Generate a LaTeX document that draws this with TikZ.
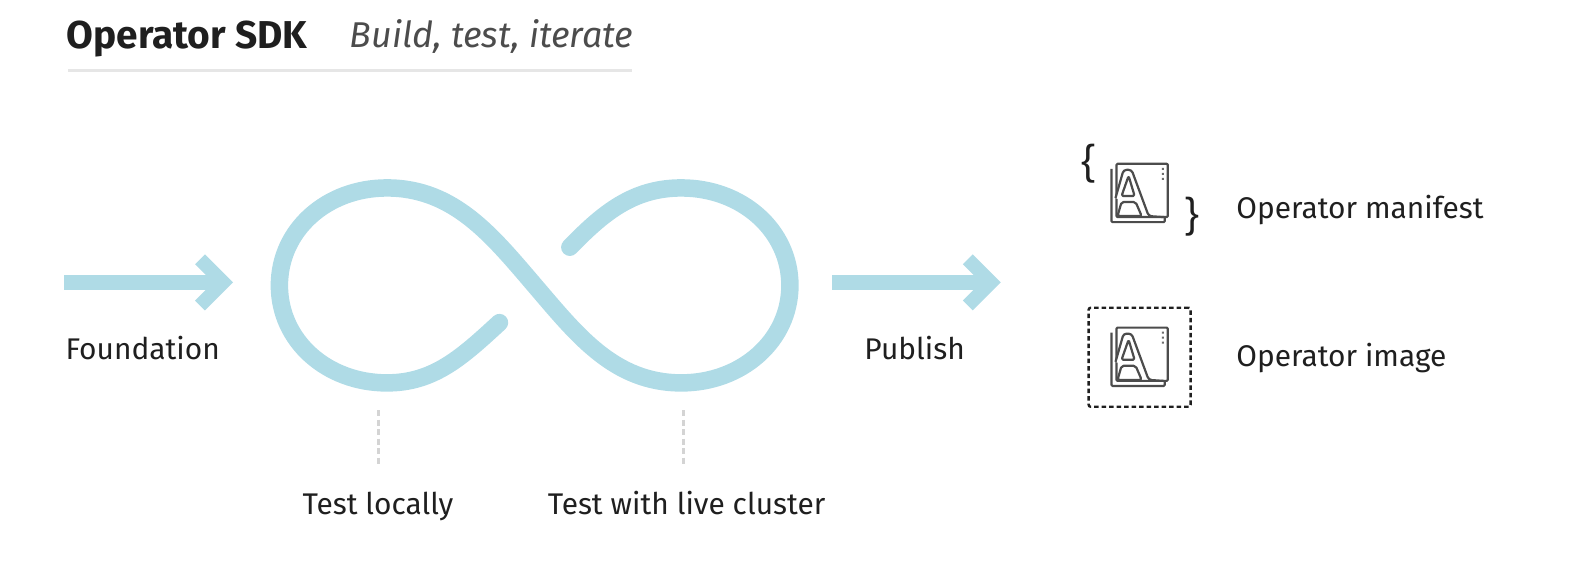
\documentclass[tikz,border=0pt]{standalone}
\usepackage{fontspec}
\setmainfont{Fira Sans}
\definecolor{loopblue}{HTML}{AFDBE6}
\definecolor{rulegray}{HTML}{E6E6E6}
\definecolor{dashgray}{HTML}{D4D4D4}
\definecolor{inkc}{HTML}{1F1F1F}
\tikzset{
 x=1.005bp,y=-1.005bp,
 flow/.style={draw=loopblue,line width=15bp},
 head/.style={draw=loopblue,line width=14bp,miter limit=10},
 loopline/.style={draw=loopblue,line width=17.5bp,line cap=round},
 drop/.style={draw=dashgray,line width=3bp,dash pattern=on 6bp off 3.5bp},
 lab/.style={font=\fontsize{30}{34}\selectfont,text=inkc,inner sep=0pt,anchor=base west},
 icon/.style={draw=inkc!80,line width=2.2bp,line join=round},
 brace/.style={font=\fontsize{42}{46}\selectfont\fontspec{Liberation Sans},text=inkc,inner sep=0pt},
 pics/sheets/.style={code={
  \draw[icon,fill=white,rounded corners=1bp] (-5,5) -- (-5,58) -- (48,58) -- (48,53);
  \draw[icon,fill=white,rounded corners=1bp] (0,0) -- (51,0) -- (51,53) -- (0,53) -- cycle;
  \draw[icon,fill=white,rounded corners=3bp] (-1,34) -- (7,6) -- (15,6) -- (32,52) -- (47,53);
  \draw[icon,rounded corners=1.5bp] (12,12) -- (18,32) -- (5,32) -- cycle;
  \draw[icon,rounded corners=2bp] (1,52) -- (5,38) -- (19,38) -- (25,52) -- cycle;
  \fill[inkc!65] (45,4) rectangle (47,6) (45,9) rectangle (47,11) (45,14) rectangle (47,16);
 }}
}
\begin{document}
\begin{tikzpicture}
\useasboundingbox (0,0) rectangle (1568.2,561.2);
\node[lab,font=\fontsize{39}{43}\selectfont\bfseries] (title) at (66,48) {Operator SDK};
\node[lab,font=\fontsize{36}{40}\selectfont\itshape,text=inkc!80] (subtitle) at (348,47) {Build, test, iterate};
\coordinate (ruleL) at (68,70); \coordinate (ruleR) at (629,70);
\draw[rulegray,line width=3bp] (ruleL) -- (ruleR);
% left arrow
\coordinate (a1) at (64,281); \coordinate (a2) at (222,281);
\coordinate (a1u) at (199,258); \coordinate (a1d) at (199,304);
\draw[flow] (a1) -- (a2);
\draw[head] (a1u) -- (a2) -- (a1d);
% right arrow
\coordinate (b1) at (828,281); \coordinate (b2) at (986,281);
\coordinate (b1u) at (963,258); \coordinate (b1d) at (963,304);
\draw[flow] (b1) -- (b2);
\draw[head] (b1u) -- (b2) -- (b1d);
% loop
\coordinate (e1) at (497,321); \coordinate (lb) at (385,381); \coordinate (ll) at (278,284);
\coordinate (lt) at (385,187); \coordinate (mid) at (532,284);
\coordinate (rb) at (678,381); \coordinate (rr) at (786,284); \coordinate (rt) at (678,187);
\coordinate (e2) at (567,246);
\draw[loopline] (e1) .. controls (460,355) and (432,381) .. (lb)
 .. controls (325,381) and (278,339) .. (ll)
 .. controls (278,229) and (325,187) .. (lt)
 .. controls (452,187) and (490,235) .. (mid)
 .. controls (574,333) and (611,381) .. (rb)
 .. controls (738,381) and (786,339) .. (rr)
 .. controls (786,229) and (738,187) .. (rt)
 .. controls (630,187) and (600,212) .. (e2);
% labels
\node[lab] (found) at (65,358) {Foundation};
\node[lab] (pub) at (860,358) {Publish};
\node[lab] (tl) at (301,512) {Test locally};
\node[lab] (tc) at (545,512) {Test with live cluster};
\node[lab] (om) at (1230,217) {Operator manifest};
\node[lab] (oi) at (1230,365) {Operator image};
\coordinate (d1a) at (377,408); \coordinate (d1b) at (377,462);
\coordinate (d2a) at (680,408); \coordinate (d2b) at (680,462);
\draw[drop] (d1a) -- (d1b);
\draw[drop] (d2a) -- (d2b);
% icons
\pic at (1111,163) {sheets};
\pic at (1111,326) {sheets};
\node[brace] (bl) at (1083,163) {\{};
\node[brace] (br) at (1187,216) {\}};
\node[draw=inkc,line width=2.4bp,dash pattern=on 4.5bp off 3bp,rounded corners=2bp,minimum width=102bp,minimum height=99bp,inner sep=0pt] (imgbox) at (1134,355.5) {};
\end{tikzpicture}
\end{document}
